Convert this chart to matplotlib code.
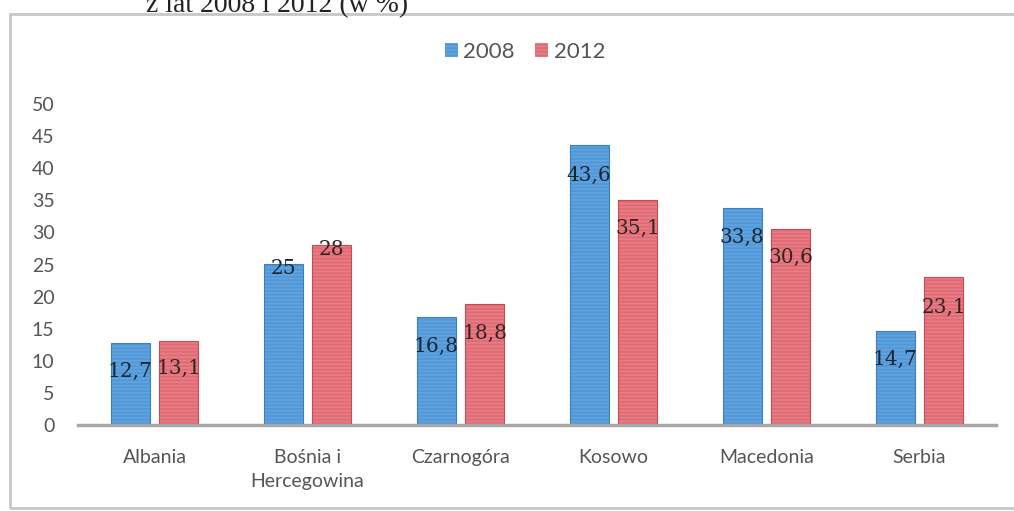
import matplotlib
matplotlib.use("Agg")
import matplotlib.pyplot as plt
from matplotlib.patches import Rectangle
import numpy as np

categories = ["Albania", "Bośnia i\nHercegowina", "Czarnogóra", "Kosowo", "Macedonia", "Serbia"]
values_2008 = [12.7, 25, 16.8, 43.6, 33.8, 14.7]
values_2012 = [13.1, 28, 18.8, 35.1, 30.6, 23.1]
labels_2008 = ["12,7", "25", "16,8", "43,6", "33,8", "14,7"]
labels_2012 = ["13,1", "28", "18,8", "35,1", "30,6", "23,1"]
series_names = ["2008", "2012"]
yticks = [0, 5, 10, 15, 20, 25, 30, 35, 40, 45, 50]

# label offset below bar top (points)
label_off_2008 = [20, 3, 21, 22, 21, 21]
label_off_2012 = [20, 3, 21, 21, 21, 22]

plt.rcParams['hatch.linewidth'] = 0.6

fig = plt.figure(figsize=(10.14, 5.11), dpi=100)
ax = fig.add_axes([78/1014, 86/511, 918/1014, 321/511])

x = np.arange(len(categories))
w = 0.255
off = 0.16
blue, blue_l, blue_e = "#3f8ad0", "#6aaae2", "#3a7fc0"
red, red_l, red_e = "#da5560", "#ea8890", "#c94a54"

b1 = ax.bar(x - off, values_2008, w, color=blue, edgecolor=blue_l, linewidth=0,
            hatch="-" * 12, label=series_names[0], zorder=2)
b2 = ax.bar(x + off, values_2012, w, color=red, edgecolor=red_l, linewidth=0,
            hatch="-" * 12, label=series_names[1], zorder=2)
ax.bar(x - off, values_2008, w, fill=False, edgecolor=blue_e, linewidth=0.8, zorder=3)
ax.bar(x + off, values_2012, w, fill=False, edgecolor=red_e, linewidth=0.8, zorder=3)

for xi, v, t, o in zip(x - off, values_2008, labels_2008, label_off_2008):
    ax.annotate(t, (xi, v), xytext=(0, -o), textcoords="offset points",
                ha="center", va="center", fontsize=14.5, family="DejaVu Serif",
                color="#1a2633", zorder=5)
for xi, v, t, o in zip(x + off, values_2012, labels_2012, label_off_2012):
    ax.annotate(t, (xi, v), xytext=(0, -o), textcoords="offset points",
                ha="center", va="center", fontsize=14.5, family="DejaVu Serif",
                color="#332424", zorder=5)

ax.set_xlim(-0.5, len(categories) - 0.5)
ax.set_ylim(0, 50)
ax.set_yticks(yticks)
ax.set_yticklabels([str(t) for t in yticks])
ax.set_xticks(x)
ax.set_xticklabels(categories, linespacing=1.5)
for s in ["top", "right", "left"]:
    ax.spines[s].set_visible(False)
ax.spines["bottom"].set_color("#a8a8a8")
ax.spines["bottom"].set_linewidth(2.5)
ax.spines["bottom"].set_zorder(4)
ax.tick_params(axis="both", length=0, colors="#555555", labelsize=14)
ax.tick_params(axis="y", pad=17)
ax.tick_params(axis="x", pad=17)
for lab in ax.get_xticklabels() + ax.get_yticklabels():
    lab.set_family("Lato")
    lab.set_color("#555555")

leg = fig.legend(handles=[b1, b2], labels=series_names, loc="center",
                 bbox_to_anchor=(525/1014, 1 - 52/511), ncol=2, frameon=False,
                 handlelength=0.6, handleheight=0.6, handletextpad=0.25,
                 columnspacing=0.9, prop={"family": "Lato", "size": 16})
for t in leg.get_texts():
    t.set_color("#555555")

# outer frame
fig.patches.append(Rectangle((10/1014, 3/511), 1.1, 494/511, transform=fig.transFigure,
                             fill=False, edgecolor="#c4c8cc", linewidth=2))

# truncated heading at top (cut off in the reference as well)
fig.text(277/1014, 1 - 12/511, "z lat 2008 i 2012 (w %)", ha="center", va="baseline",
         fontsize=20, family="Liberation Serif", color="#222222")

fig.savefig("out.png", dpi=100)
